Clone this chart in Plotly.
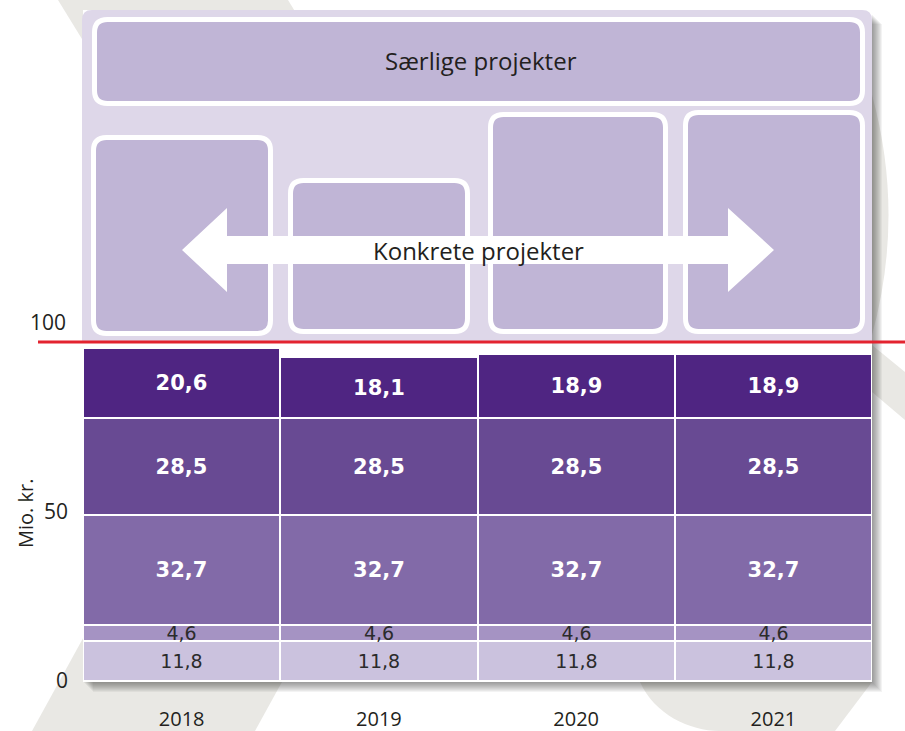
import plotly.graph_objects as go

# ---------------- data ----------------
years = ["2018", "2019", "2020", "2021"]
seg1 = [11.8, 11.8, 11.8, 11.8]   # bottom
seg2 = [4.6, 4.6, 4.6, 4.6]
seg3 = [32.7, 32.7, 32.7, 32.7]
seg4 = [28.5, 28.5, 28.5, 28.5]
seg5 = [20.6, 18.1, 18.9, 18.9]   # top
y_ticks = [0, 50]
ref_level = 100
y_title = "Mio. kr."
top_label = "Særlige projekter"
mid_label = "Konkrete projekter"

# ---------------- geometry helpers (pixels -> paper) ----------------
W, H = 905, 731
L, R, T, B = 83, 872, 10, 681
YMAX = 100 * (B - T) / (B - 342)


def px(x):
    return (x - L) / (R - L)


def py(y):
    return (B - y) / (B - T)


def pt(x, y):
    return f"{px(x):.5f},{py(y):.5f}"


def rrect(x0, y0, x1, y1, r):
    return (f"M {pt(x0 + r, y0)} L {pt(x1 - r, y0)} Q {pt(x1, y0)} {pt(x1, y0 + r)} "
            f"L {pt(x1, y1 - r)} Q {pt(x1, y1)} {pt(x1 - r, y1)} "
            f"L {pt(x0 + r, y1)} Q {pt(x0, y1)} {pt(x0, y1 - r)} "
            f"L {pt(x0, y0 + r)} Q {pt(x0, y0)} {pt(x0 + r, y0)} Z")


def poly(points):
    s = "M " + " L ".join(pt(x, y) for x, y in points) + " Z"
    return s


GRAY = "#E9E8E4"
shapes = []


def add_path(path, fill, line_color=None, line_width=0, layer="below", opacity=1):
    shapes.append(dict(type="path", xref="paper", yref="paper", path=path,
                       fillcolor=fill, opacity=opacity, layer=layer,
                       line=dict(color=line_color or "rgba(0,0,0,0)", width=line_width)))


# watermark
add_path(poly([(58, 0), (288, 0), (500, 345), (270, 345)]), GRAY)
add_path(poly([(32, 731), (255, 731), (426, 420), (203, 420)]), GRAY)
add_path(f"M {pt(872, 95)} Q {pt(905, 215)} {pt(872, 335)} Z", GRAY)
add_path(poly([(872, 345), (905, 372), (905, 420), (872, 392)]), GRAY)
add_path(f"M {pt(640, 682)} C {pt(655, 715)} {pt(690, 731)} {pt(720, 731)} "
         f"L {pt(835, 731)} L {pt(872, 682)} Z", GRAY)

# drop shadow
for i in range(1, 11):
    add_path(poly([(83 + i, 14 + i), (872 + i, 14 + i), (872 + i, 682 + i), (83 + i, 682 + i)]),
             "rgba(50,50,50,1)", opacity=0.06)

# white chart area
add_path(poly([(83, 10), (872, 10), (872, 682), (83, 682)]), "white")
# lavender panel
add_path(f"M {pt(82, 342)} L {pt(82, 20)} Q {pt(82, 10)} {pt(92, 10)} L {pt(862, 10)} "
         f"Q {pt(872, 10)} {pt(872, 20)} L {pt(872, 342)} Z", "#DED7E9")

BOX = "#C0B5D6"
add_path(rrect(94.5, 19.5, 862.5, 103.5, 13), BOX, "white", 5)
add_path(rrect(93.5, 137.5, 270.5, 333.5, 13), BOX, "white", 5)
add_path(rrect(290.5, 180.5, 467.5, 331.5, 13), BOX, "white", 5)
add_path(rrect(490.5, 114.5, 665.5, 331.5, 13), BOX, "white", 5)
add_path(rrect(685.5, 112.5, 862.5, 331.5, 13), BOX, "white", 5)

# double arrow
add_path(poly([(182, 250), (227, 208), (227, 236), (728, 236), (728, 208), (774, 250),
               (728, 292), (728, 264), (227, 264), (227, 292)]), "white")

# red reference line
shapes.append(dict(type="line", xref="paper", yref="y", x0=px(38), x1=px(905),
                   y0=ref_level, y1=ref_level, layer="above",
                   line=dict(color="#E3232F", width=3)))

# ---------------- traces ----------------
series = [
    (seg1, "#CBC2DE", dict(family="DejaVu Sans", size=19, color="#2B2B2B")),
    (seg2, "#A593C3", dict(family="DejaVu Sans", size=19, color="#2B2B2B")),
    (seg3, "#826AA8", dict(family="DejaVu Sans", size=21, color="white", weight="bold")),
    (seg4, "#684A93", dict(family="DejaVu Sans", size=21, color="white", weight="bold")),
    (seg5, "#4F2582", dict(family="DejaVu Sans", size=21, color="white", weight="bold")),
]

fig = go.Figure()
for vals, color, tfont in series:
    fig.add_trace(go.Bar(
        x=years, y=vals, marker=dict(color=color, line=dict(color="white", width=2)),
        texttemplate="%{y:.1f}", textposition="inside", insidetextanchor="middle",
        textangle=0, constraintext="none", textfont=tfont, showlegend=False,
        hoverinfo="x+y"))

annotations = [
    dict(text=top_label, xref="paper", yref="paper", x=px(481), y=py(61), showarrow=False,
         xanchor="center", yanchor="middle",
         font=dict(family="Open Sans", size=24, color="#231F20")),
    dict(text=mid_label, xref="paper", yref="paper", x=px(478), y=py(250), showarrow=False,
         xanchor="center", yanchor="middle",
         font=dict(family="Open Sans", size=24, color="#231F20")),
    dict(text=str(ref_level), xref="paper", yref="y", x=px(68), y=ref_level, yshift=20,
         xanchor="right", yanchor="middle", showarrow=False,
         font=dict(family="Open Sans", size=21, color="#231F20")),
    dict(text=y_title, xref="paper", yref="paper", x=px(25), y=py(514), textangle=-90,
         xanchor="center", yanchor="middle",
         showarrow=False, font=dict(family="Open Sans", size=20, color="#231F20")),
]

fig.update_layout(
    width=W, height=H,
    margin=dict(l=L, r=W - R, t=T, b=H - B),
    barmode="stack", bargap=0,
    paper_bgcolor="white", plot_bgcolor="rgba(0,0,0,0)",
    separators=",.",
    shapes=shapes, annotations=annotations,
    font=dict(family="Open Sans", color="#231F20"),
)
fig.update_xaxes(range=[-0.5, 3.5], showgrid=False, zeroline=False, showline=False,
                 ticks="", ticklabelstandoff=24, automargin=False,
                 tickfont=dict(family="Open Sans", size=20, color="#231F20"))
fig.update_yaxes(range=[0, YMAX], showgrid=False, zeroline=False, showline=False,
                 tickvals=y_ticks, ticks="", ticklabelstandoff=14, automargin=False,
                 tickfont=dict(family="Open Sans", size=21, color="#231F20"))

fig.write_html("out.html", config={"displayModeBar": False},
               post_script="document.body.style.margin='0px';")
